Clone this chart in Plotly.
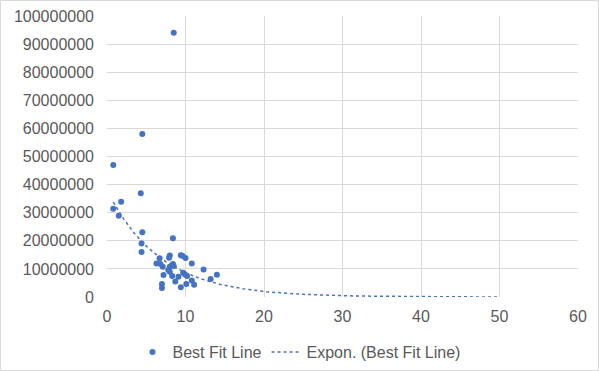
import numpy as np
import plotly.graph_objects as go

x_vals = [0.8, 4.3, 1.8, 0.8, 1.5, 4.5, 8.4, 4.4, 4.4, 6.7, 8.0, 7.9, 9.4, 9.6, 10.0,
          6.3, 6.8, 7.1, 8.4, 8.5, 8.0, 10.8, 7.8, 8.0, 12.3, 7.2, 8.3, 9.1, 9.7, 9.9,
          10.2, 14.0, 13.2, 8.7, 10.8, 10.1, 11.1, 7.0, 7.0, 9.4, 4.5, 8.5]
y_vals = [47.0e6, 36.9e6, 33.9e6, 31.4e6, 28.9e6, 23.0e6, 20.9e6, 19.0e6, 16.0e6, 13.8e6,
          14.8e6, 14.0e6, 14.9e6, 14.7e6, 13.9e6, 11.9e6, 11.7e6, 10.8e6, 11.7e6, 11.0e6,
          10.8e6, 11.9e6, 9.6e6, 9.0e6, 9.8e6, 7.8e6, 7.5e6, 7.2e6, 8.6e6, 8.1e6,
          7.5e6, 7.9e6, 6.4e6, 5.5e6, 5.9e6, 4.6e6, 4.4e6, 4.6e6, 3.2e6, 3.5e6,
          58.0e6, 94.0e6]
series_name = "Best Fit Line"
trend_name = "Expon. (Best Fit Line)"
trend_end = 50

# Exponential least squares fit (like Excel's Expon. trendline)
xa = np.array(x_vals)
ya = np.array(y_vals)
b, ln_a = np.polyfit(xa, np.log(ya), 1)
tx = np.linspace(xa.min(), trend_end, 300)
ty = np.exp(ln_a) * np.exp(b * tx)

blue = "#4472C4"
fig = go.Figure()
fig.add_trace(go.Scatter(x=x_vals, y=y_vals, mode="markers", name=series_name,
                         marker=dict(color=blue, size=6)))
fig.add_trace(go.Scatter(x=tx, y=ty, mode="lines", name=trend_name,
                         line=dict(color=blue, width=1.5, dash="dot")))

W, H = 599, 371
ml, mr, mt, mb = 107, 21, 16, 74
pw, ph = W - ml - mr, H - mt - mb
fig.update_layout(
    width=W, height=H,
    margin=dict(l=ml, r=mr, t=mt, b=mb, autoexpand=False),
    paper_bgcolor="white", plot_bgcolor="white",
    font=dict(family="Liberation Sans, Arial, sans-serif", size=16, color="#595959"),
    showlegend=True,
    legend=dict(orientation="h", x=(299 - ml) / pw, xanchor="center",
                y=(297 - 352) / ph, yanchor="middle",
                font=dict(size=16, color="#595959"), itemwidth=30),
    xaxis=dict(range=[0, 60], dtick=10, showgrid=True, gridcolor="#D9D9D9", gridwidth=1,
               zeroline=False, showline=False, ticks="", ticklabelstandoff=8,
               automargin=False),
    yaxis=dict(range=[0, 100000000], dtick=10000000, showgrid=True, gridcolor="#D9D9D9",
               gridwidth=1, zeroline=False, showline=False, ticks="", tickformat="d",
               ticklabelstandoff=12, automargin=False),
    shapes=[dict(type="rect", xref="paper", yref="paper",
                 x0=-(ml - 0.5) / pw, x1=1 + (mr - 0.5) / pw,
                 y0=-(mb - 0.5) / ph, y1=1 + (mt - 0.5) / ph,
                 line=dict(color="#D9D9D9", width=1), layer="below")],
)
fig.write_html("out.html", config={"displayModeBar": False},
               post_script="document.body.style.margin='0';")
